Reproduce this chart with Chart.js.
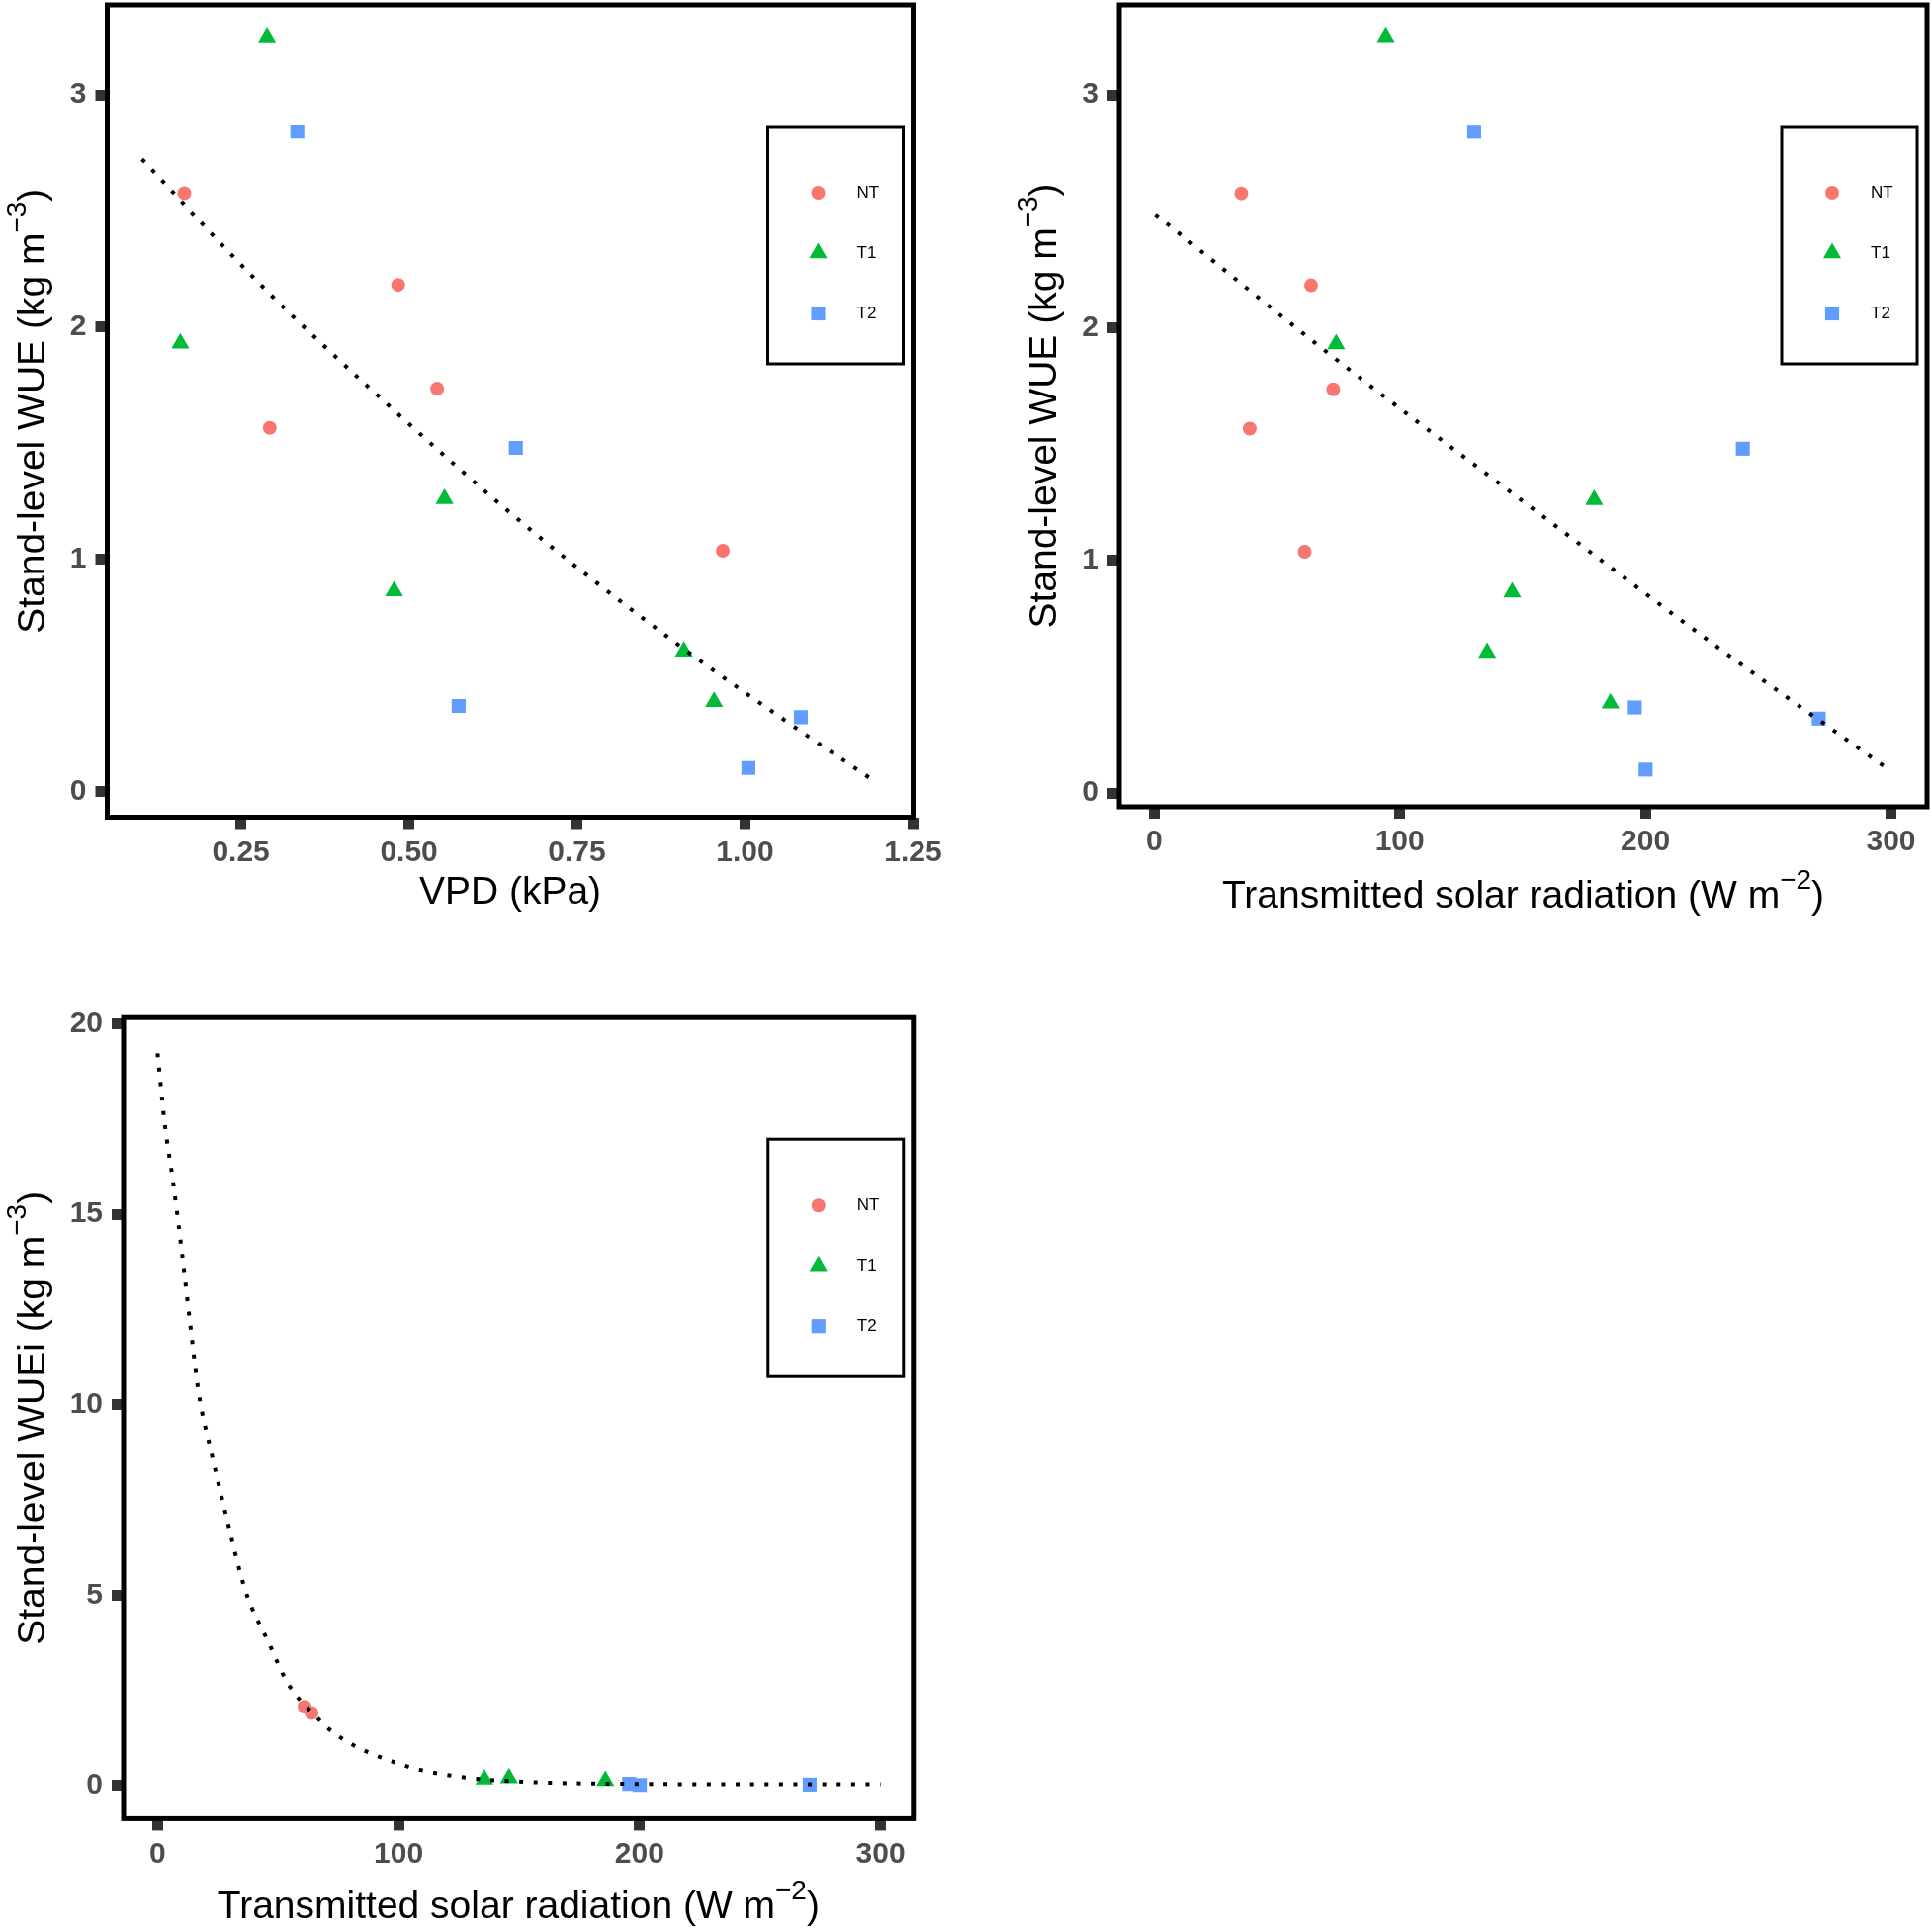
<!DOCTYPE html>
<html>
<head>
<meta charset="utf-8">
<title>Stand-level WUE</title>
<script src="https://cdn.jsdelivr.net/npm/chart.js@4.4.1/dist/chart.umd.min.js"></script>
<style>
    html, body { margin: 0; padding: 0; background: #ffffff; }
    .panel { position: absolute; }
</style>
</head>
<body>
<canvas id="vpdChart" class="panel" width="975" height="975" style="left:0px;top:0px"></canvas>
<canvas id="radChart" class="panel" width="954" height="975" style="left:1000px;top:0px"></canvas>
<canvas id="wueiChart" class="panel" width="975" height="964" style="left:0px;top:990px"></canvas>
<script>
// ===== Data =====
const groups = ['NT', 'T1', 'T2'];

// Stand-level WUE (kg m-3) with VPD (kPa) and transmitted radiation (W m-2)
const wueNT = [2.577, 2.182, 1.735, 1.566, 1.037];
const vpdNT = [0.166, 0.484, 0.542, 0.293, 0.967];
const radNT = [35.5, 63.9, 72.9, 38.9, 61.3];

const wueT1 = [3.250, 1.930, 1.260, 0.863, 0.604, 0.386];
const vpdT1 = [0.289, 0.160, 0.553, 0.478, 0.909, 0.954];
const radT1 = [94.3, 74.1, 179.2, 145.8, 135.6, 185.8];

const wueT2 = [2.842, 1.480, 0.368, 0.320, 0.101];
const vpdT2 = [0.334, 0.659, 0.574, 1.083, 1.005];
const radT2 = [130.3, 239.7, 195.7, 270.6, 200.1];

// Stand-level WUEi (kg m-3) against transmitted radiation
const wueiNT = [2.07, 1.91];
const wueiRadNT = [61.0, 63.9];
const wueiT1 = [0.17, 0.20, 0.13];
const wueiRadT1 = [135.6, 145.8, 185.8];
const wueiT2 = [0.05, 0.02, 0.03];
const wueiRadT2 = [195.7, 200.1, 270.6];

// Fitted curves (dotted)
const vpdFitX = [0.103, 0.280, 0.469, 0.681, 0.902, 1.077, 1.188];
const vpdFitY = [2.723, 2.181, 1.665, 1.127, 0.629, 0.271, 0.053];
const radFitX = [0.5, 73.1, 153.2, 233.3, 300];
const radFitY = [2.487, 1.872, 1.230, 0.597, 0.094];
const wueiFitX = [0, 3, 6.4, 10.1, 13.5, 17.1, 22.1, 27.6, 36.5, 46.3, 54, 65.5, 74.5, 101.3, 124.4, 150, 191.1, 250, 300];
const wueiFitY = [19.22, 17.36, 15.87, 14.0, 12.14, 10.29, 8.80, 7.31, 5.11, 3.73, 2.69, 1.83, 1.32, 0.55, 0.24, 0.11, 0.05, 0.04, 0.04];

// Tick values
const vpdTicks = [0.25, 0.5, 0.75, 1.0, 1.25];
const radTicks = [0, 100, 200, 300];
const wueTicks = [0, 1, 2, 3];
const wueiTicks = [0, 5, 10, 15, 20];

// ===== Styles =====
const groupColors = ['#F8766D', '#00BA38', '#619CFF'];
const groupShapes = ['circle', 'triangle', 'rect'];
const groupRadius = [7, 10.5, 10];
const FONT = "'Liberation Sans', Arial, Helvetica, sans-serif";

function toPoints(xs, ys) {
    return xs.map((x, i) => ({ x: x, y: ys[i] }));
}

function buildDatasets(xLists, yLists, fitX, fitY) {
    const sets = groups.map((g, i) => ({
        label: g,
        data: toPoints(xLists[i], yLists[i]),
        pointStyle: groupShapes[i],
        pointRadius: groupRadius[i],
        pointBackgroundColor: groupColors[i],
        pointBorderWidth: 0,
        showLine: false,
        order: 1
    }));
    sets.push({
        label: 'fit',
        isFit: true,
        data: toPoints(fitX, fitY),
        showLine: true,
        pointRadius: 0,
        borderColor: '#000000',
        borderWidth: 4,
        borderDash: [4, 10.6],
        borderCapStyle: 'butt',
        cubicInterpolationMode: 'monotone',
        fill: false,
        order: 0
    });
    return sets;
}

function drawMarker(ctx, shape, x, y, r, color) {
    ctx.fillStyle = color;
    ctx.beginPath();
    if (shape === 'circle') {
        ctx.arc(x, y, r, 0, Math.PI * 2);
    } else if (shape === 'triangle') {
        ctx.moveTo(x, y - r);
        ctx.lineTo(x + r * Math.sin(2 * Math.PI / 3), y - r * Math.cos(2 * Math.PI / 3));
        ctx.lineTo(x - r * Math.sin(2 * Math.PI / 3), y - r * Math.cos(2 * Math.PI / 3));
        ctx.closePath();
    } else {
        const s = r * Math.SQRT1_2;
        ctx.rect(x - s, y - s, 2 * s, 2 * s);
    }
    ctx.fill();
}

// title with optional superscript parts, centred at (0, 0) on the baseline
function drawTitle(ctx, parts) {
    const mainFont = '39px ' + FONT;
    const supFont = '28px ' + FONT;
    let total = 0;
    parts.forEach(p => {
        ctx.font = p.sup ? supFont : mainFont;
        p.w = ctx.measureText(p.t).width;
        total += p.w;
    });
    let x = -total / 2;
    ctx.fillStyle = '#000000';
    ctx.textAlign = 'left';
    ctx.textBaseline = 'alphabetic';
    parts.forEach(p => {
        ctx.font = p.sup ? supFont : mainFont;
        ctx.fillText(p.t, x, p.sup ? -19 : 0);
        x += p.w;
    });
}

// ===== Border, legend and axis titles =====
const panelDecor = {
    id: 'panelDecor',
    afterDraw(chart, args, opts) {
        const ctx = chart.ctx;
        const a = chart.chartArea;
        ctx.save();

        // panel border
        ctx.lineWidth = 5;
        ctx.strokeStyle = '#000000';
        ctx.strokeRect(a.left, a.top, a.right - a.left, a.bottom - a.top);

        // legend box
        const lw = 137, lh = 240;
        const lx = a.right - 10 - lw;
        const ly = a.top + 123;
        ctx.lineWidth = 3;
        ctx.fillStyle = '#ffffff';
        ctx.fillRect(lx, ly, lw, lh);
        ctx.strokeRect(lx, ly, lw, lh);
        const rows = [67, 128, 189];
        chart.data.datasets.filter(d => !d.isFit).forEach((d, i) => {
            drawMarker(ctx, d.pointStyle, lx + 51, ly + rows[i], d.pointRadius, d.pointBackgroundColor);
            ctx.fillStyle = '#000000';
            ctx.font = '17px ' + FONT;
            ctx.textAlign = 'left';
            ctx.textBaseline = 'middle';
            ctx.fillText(d.label, lx + 90, ly + rows[i]);
        });

        // x title
        ctx.save();
        ctx.translate((a.left + a.right) / 2, a.bottom + opts.xGap);
        drawTitle(ctx, opts.xTitle);
        ctx.restore();

        // y title
        ctx.save();
        ctx.translate(a.left - opts.yGap, (a.top + a.bottom) / 2);
        ctx.rotate(-Math.PI / 2);
        drawTitle(ctx, opts.yTitle);
        ctx.restore();

        ctx.restore();
    }
};

function makePanel(canvasId, cfg) {
    const tickFont = { family: FONT, size: 30, weight: 'bold' };
    const tickGrid = {
        display: true,
        drawOnChartArea: false,
        drawTicks: true,
        tickLength: 12,
        tickWidth: 11,
        tickColor: '#333333'
    };
    return new Chart(document.getElementById(canvasId), {
        type: 'scatter',
        data: { datasets: cfg.datasets },
        options: {
            responsive: false,
            animation: false,
            devicePixelRatio: 1,
            layout: { padding: cfg.padding, autoPadding: false },
            plugins: {
                legend: { display: false },
                tooltip: { enabled: false },
                panelDecor: {
                    xTitle: cfg.xTitle,
                    yTitle: cfg.yTitle,
                    xGap: cfg.xGap,
                    yGap: cfg.yGap
                }
            },
            scales: {
                x: {
                    type: 'linear',
                    min: cfg.xMin,
                    max: cfg.xMax,
                    grid: tickGrid,
                    border: { display: false },
                    ticks: {
                        font: tickFont,
                        color: '#4D4D4D',
                        padding: 6,
                        autoSkip: false,
                        maxRotation: 0,
                        callback: cfg.xFormat
                    },
                    afterBuildTicks: axis => { axis.ticks = cfg.xTicks.map(v => ({ value: v })); },
                    afterFit: axis => {
                        axis.height = cfg.xAxisHeight;
                        axis.paddingLeft = 0;
                        axis.paddingRight = 0;
                    }
                },
                y: {
                    type: 'linear',
                    min: cfg.yMin,
                    max: cfg.yMax,
                    grid: tickGrid,
                    border: { display: false },
                    ticks: {
                        font: tickFont,
                        color: '#4D4D4D',
                        padding: 9,
                        callback: v => String(v)
                    },
                    afterBuildTicks: axis => { axis.ticks = cfg.yTicks.map(v => ({ value: v })); },
                    afterFit: axis => {
                        axis.width = cfg.yAxisWidth;
                        axis.paddingTop = 0;
                        axis.paddingBottom = 0;
                    }
                }
            }
        },
        plugins: [panelDecor]
    });
}

document.addEventListener('DOMContentLoaded', function() {
    const wueTitle = [{ t: 'Stand-level WUE (kg m' }, { t: '\u22123', sup: true }, { t: ')' }];
    const radTitle = [{ t: 'Transmitted solar radiation (W m' }, { t: '\u22122', sup: true }, { t: ')' }];

    // ===== WUE vs VPD =====
    makePanel('vpdChart', {
        datasets: buildDatasets([vpdNT, vpdT1, vpdT2], [wueNT, wueT1, wueT2], vpdFitX, vpdFitY),
        xMin: 0.0513, xMax: 1.25, yMin: -0.111, yMax: 3.388,
        xTicks: vpdTicks, yTicks: wueTicks,
        xFormat: v => v.toFixed(2),
        padding: { left: 0, top: 5, right: 51.5, bottom: 0 },
        yAxisWidth: 108.5, xAxisHeight: 148.5,
        xTitle: [{ t: 'VPD (kPa)' }], yTitle: wueTitle,
        xGap: 87, yGap: 63.5
    });

    // ===== WUE vs transmitted radiation =====
    makePanel('radChart', {
        datasets: buildDatasets([radNT, radT1, radT2], [wueNT, wueT1, wueT2], radFitX, radFitY),
        xMin: -14.2, xMax: 314.7, yMin: -0.059, yMax: 3.387,
        xTicks: radTicks, yTicks: wueTicks,
        xFormat: v => String(v),
        padding: { left: 0, top: 5, right: 5, bottom: 0 },
        yAxisWidth: 132, xAxisHeight: 159,
        xTitle: radTitle, yTitle: wueTitle,
        xGap: 102, yGap: 64
    });

    // ===== WUEi vs transmitted radiation =====
    makePanel('wueiChart', {
        datasets: buildDatasets([wueiRadNT, wueiRadT1, wueiRadT2], [wueiNT, wueiT1, wueiT2], wueiFitX, wueiFitY),
        xMin: -14.1, xMax: 313.6, yMin: -0.867, yMax: 20.16,
        xTicks: radTicks, yTicks: wueiTicks,
        xFormat: v => String(v),
        padding: { left: 0, top: 39.2, right: 51.25, bottom: 0 },
        yAxisWidth: 125, xAxisHeight: 114.6,
        xTitle: radTitle,
        yTitle: [{ t: 'Stand-level WUEi (kg m' }, { t: '\u22123', sup: true }, { t: ')' }],
        xGap: 101, yGap: 80
    });
});
</script>
</body>
</html>
